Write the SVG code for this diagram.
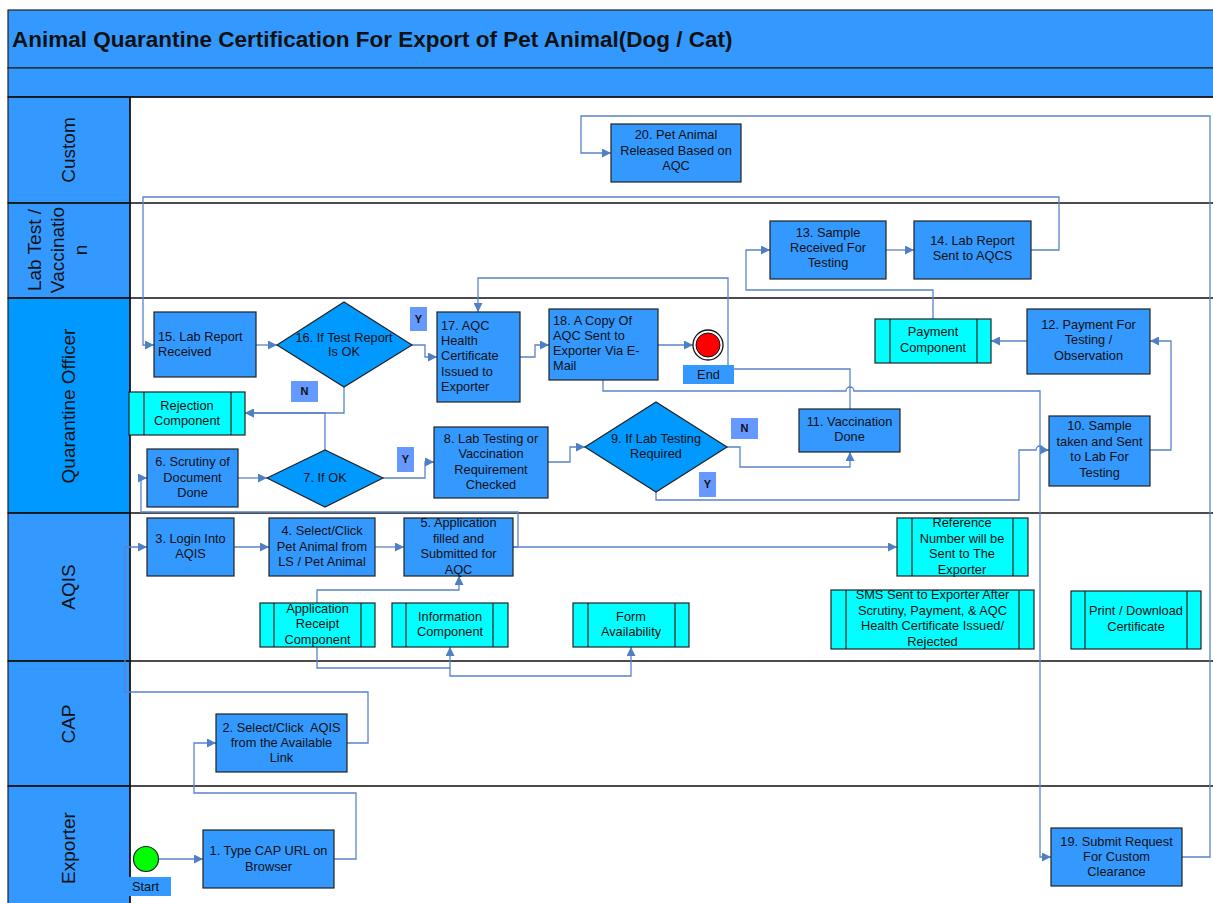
<svg xmlns="http://www.w3.org/2000/svg" width="1213" height="903" viewBox="0 0 1213 903">
<style>
.hdr{fill:#3399FF;stroke:#222;stroke-width:1.2}
.hdr2{fill:#0099FF;stroke:#222;stroke-width:1.2}
.lane{stroke:#111;stroke-width:1.5}
.box{fill:#3399FF;stroke:#222;stroke-width:1.2}
.comp{fill:#00FFFF;stroke:#222;stroke-width:1.2}
.cl{stroke:#222;stroke-width:1.2}
.dia{fill:#0099FF;stroke:#222;stroke-width:1.2}
.lbl{fill:#6699FF}
.lbl2{fill:#3399FF}
.t{font-family:"Liberation Sans",Arial,sans-serif;font-size:12.8px;fill:#111}
.c{text-anchor:middle}
.yn{font-family:"Liberation Sans",Arial,sans-serif;font-size:11px;font-weight:bold;fill:#111;text-anchor:middle}
.lh{font-family:"Liberation Sans",Arial,sans-serif;font-size:19px;fill:#111;text-anchor:middle}
.conn{fill:none;stroke:#5A84C8;stroke-width:1.3;marker-end:url(#ah)}
.line{fill:none;stroke:#5A84C8;stroke-width:1.3}
</style>
<defs>
<marker id="ah" markerUnits="userSpaceOnUse" markerWidth="9" markerHeight="9" refX="9" refY="4.5" orient="auto">
<path d="M0,0 L9,4.5 L0,9 z" fill="#4F7FC4"/>
</marker>
</defs>
<rect x="0" y="0" width="1213" height="903" fill="#fff"/>
<g id="frame">
<rect x="8" y="10" width="1210" height="58" class="hdr"/>
<rect x="8" y="68" width="1210" height="29" class="hdr"/>
<text x="12" y="47" font-family="Liberation Sans, Arial, sans-serif" font-size="22.5" font-weight="bold" fill="#111">Animal Quarantine Certification For Export of Pet Animal(Dog / Cat)</text>
<rect x="8" y="97" width="122" height="106" class="hdr"/>
<rect x="8" y="203" width="122" height="95" class="hdr"/>
<rect x="8" y="298" width="122" height="215" class="hdr2"/>
<rect x="8" y="513" width="122" height="148" class="hdr"/>
<rect x="8" y="661" width="122" height="125" class="hdr"/>
<rect x="8" y="786" width="122" height="120" class="hdr"/>
<line x1="8" y1="97" x2="1213" y2="97" class="lane"/>
<line x1="8" y1="203" x2="1213" y2="203" class="lane"/>
<line x1="8" y1="298" x2="1213" y2="298" class="lane"/>
<line x1="8" y1="513" x2="1213" y2="513" class="lane"/>
<line x1="8" y1="661" x2="1213" y2="661" class="lane"/>
<line x1="8" y1="786" x2="1213" y2="786" class="lane"/>
<line x1="130" y1="97" x2="130" y2="903" class="lane"/>
<text class="lh" transform="translate(75,150) rotate(-90)">Custom</text>
<text class="lh" transform="translate(41,250) rotate(-90)">Lab Test /</text>
<text class="lh" transform="translate(64,250) rotate(-90)">Vaccinatio</text>
<text class="lh" transform="translate(87,250) rotate(-90)">n</text>
<text class="lh" transform="translate(75,406) rotate(-90)">Quarantine Officer</text>
<text class="lh" transform="translate(75,587) rotate(-90)">AQIS</text>
<text class="lh" transform="translate(75,724) rotate(-90)">CAP</text>
<text class="lh" transform="translate(75,848) rotate(-90)">Exporter</text>
</g>
<g id="connectors">
<path class="conn" d="M158,859 H203"/>
<path class="conn" d="M334,859 H356 V793 H194 V743 H216"/>
<path class="conn" d="M347,743 H368 V692 H125 V547 H147"/>
<path class="conn" d="M234,547 H269"/>
<path class="conn" d="M375,547 H404"/>
<path class="conn" d="M513,547 H897"/>
<path class="conn" d="M513,547 H518 V512 H141 V478 H147"/>
<path class="conn" d="M317,603 V590 H459 V576"/>
<path class="conn" d="M317,647 V668 H450 V647"/>
<path class="conn" d="M450,668 V676 H631 V647"/>
<path class="conn" d="M238,478 H267"/>
<path class="conn" d="M383,478 H425 V462 H434"/>
<path class="conn" d="M325,450 V413 H245"/>
<path class="conn" d="M344,387 V413 H245"/>
<path class="conn" d="M548,462 H570 V447 H585"/>
<path class="conn" d="M727,447 H740 V467 H850 V452"/>
<path class="conn" d="M656,492 V500 H1019 V450 H1036 A4,4 0 0 1 1044,450 H1049"/>
<path class="conn" d="M1150,450 H1171 V341 H1150"/>
<path class="conn" d="M1027,341 H991"/>
<path class="conn" d="M933,319 V290 H746 V250 H770"/>
<path class="conn" d="M886,250 H914"/>
<path class="conn" d="M1031,250 H1059 V197 H143 V345 H154"/>
<path class="conn" d="M256,345 H277"/>
<path class="conn" d="M412,345 H425 V357 H437"/>
<path class="conn" d="M520,357 H535 V345 H549"/>
<path class="conn" d="M658,345 H693"/>
<path class="conn" d="M850,409 V369 H728 V278 H478 V312"/>
<path class="conn" d="M603,380 V391 H846 A4,4 0 0 1 854,391 H1040 V857 H1051"/>
<path class="conn" d="M1182,857 H1210 V116 H581 V153 H611"/>
</g>
<g id="n20"><rect x="611" y="124" width="130" height="58" class="box"/><text class="t c" x="676"><tspan x="676" y="139">20. Pet Animal</tspan><tspan x="676" y="155">Released Based on</tspan><tspan x="676" y="170">AQC</tspan></text></g>
<g id="n13"><rect x="770" y="221" width="116" height="58" class="box"/><text class="t c"><tspan x="828" y="237">13. Sample</tspan><tspan x="828" y="252">Received For</tspan><tspan x="828" y="267">Testing</tspan></text></g>
<g id="n14"><rect x="914" y="221" width="117" height="58" class="box"/><text class="t c"><tspan x="972.5" y="245">14. Lab Report</tspan><tspan x="972.5" y="260">Sent to AQCS</tspan></text></g>
<g id="payment"><rect x="875" y="319" width="116" height="44" class="comp"/><line x1="890" y1="319" x2="890" y2="363" class="cl"/><line x1="977" y1="319" x2="977" y2="363" class="cl"/><text class="t c"><tspan x="933" y="336">Payment</tspan><tspan x="933" y="352">Component</tspan></text></g>
<g id="n12"><rect x="1027" y="309" width="123" height="65" class="box"/><text class="t c"><tspan x="1088.5" y="329">12. Payment For</tspan><tspan x="1088.5" y="344">Testing /</tspan><tspan x="1088.5" y="360">Observation</tspan></text></g>
<g id="n15"><rect x="154" y="312" width="102" height="65" class="box"/><text class="t"><tspan x="158" y="341">15. Lab Report</tspan><tspan x="158" y="356">Received</tspan></text></g>
<g id="n16"><polygon points="277,345 344,302 412,345 344,387" class="dia"/><text class="t c"><tspan x="344" y="342">16. If Test Report</tspan><tspan x="344" y="356">Is OK</tspan></text></g>
<g id="n17"><rect x="437" y="312" width="83" height="90" class="box"/><text class="t"><tspan x="441" y="330">17. AQC</tspan><tspan x="441" y="345">Health</tspan><tspan x="441" y="360">Certificate</tspan><tspan x="441" y="376">Issued to</tspan><tspan x="441" y="391">Exporter</tspan></text></g>
<g id="n18"><rect x="549" y="309" width="109" height="71" class="box"/><text class="t"><tspan x="553" y="325">18. A Copy Of</tspan><tspan x="553" y="340">AQC Sent to</tspan><tspan x="553" y="355">Exporter Via E-</tspan><tspan x="553" y="370">Mail</tspan></text></g>
<g id="end"><circle cx="708" cy="345" r="15" fill="#fff" stroke="#111" stroke-width="1.3"/><circle cx="708" cy="345" r="12" fill="#FF0000" stroke="#111" stroke-width="1"/><rect x="683" y="365" width="51" height="19" class="lbl2"/><text class="t c" x="708.5" y="379">End</text></g>
<g id="rejection"><rect x="129" y="392" width="116" height="43" class="comp"/><line x1="144" y1="392" x2="144" y2="435" class="cl"/><line x1="231" y1="392" x2="231" y2="435" class="cl"/><text class="t c"><tspan x="187" y="410">Rejection</tspan><tspan x="187" y="425">Component</tspan></text></g>
<g id="n6"><rect x="147" y="449" width="91" height="58" class="box"/><text class="t c"><tspan x="192.5" y="466">6. Scrutiny of</tspan><tspan x="192.5" y="481.5">Document</tspan><tspan x="192.5" y="497">Done</tspan></text></g>
<g id="n7"><polygon points="267,478 325,450 383,478 325,507" class="dia"/><text class="t c" x="325" y="482">7. If OK</text></g>
<g id="n8"><rect x="434" y="427" width="114" height="71" class="box"/><text class="t c"><tspan x="491" y="443">8. Lab Testing or</tspan><tspan x="491" y="458">Vaccination</tspan><tspan x="491" y="474">Requirement</tspan><tspan x="491" y="489">Checked</tspan></text></g>
<g id="n9"><polygon points="585,447 656,402 727,447 656,492" class="dia"/><text class="t c"><tspan x="656" y="443">9. If Lab Testing</tspan><tspan x="656" y="458">Required</tspan></text></g>
<g id="n11"><rect x="799" y="409" width="101" height="43" class="box"/><text class="t c"><tspan x="849.5" y="426">11. Vaccination</tspan><tspan x="849.5" y="441">Done</tspan></text></g>
<g id="n10"><rect x="1049" y="416" width="101" height="70" class="box"/><text class="t c"><tspan x="1099.5" y="430">10. Sample</tspan><tspan x="1099.5" y="446">taken and Sent</tspan><tspan x="1099.5" y="461">to Lab For</tspan><tspan x="1099.5" y="477">Testing</tspan></text></g>
<g id="labels">
<rect x="410" y="307" width="17" height="24" class="lbl"/><text class="yn" x="418.5" y="323">Y</text>
<rect x="397" y="447" width="17" height="25" class="lbl"/><text class="yn" x="405.5" y="463">Y</text>
<rect x="699" y="472" width="17" height="25" class="lbl"/><text class="yn" x="707.5" y="488">Y</text>
<rect x="291" y="381" width="27" height="21" class="lbl"/><text class="yn" x="304.5" y="395">N</text>
<rect x="731" y="418" width="27" height="21" class="lbl"/><text class="yn" x="744.5" y="432">N</text>
</g>
<g id="n3"><rect x="147" y="518" width="87" height="58" class="box"/><text class="t c"><tspan x="190.5" y="543">3. Login Into</tspan><tspan x="190.5" y="558">AQIS</tspan></text></g>
<g id="n4"><rect x="269" y="518" width="106" height="58" class="box"/><text class="t c"><tspan x="322" y="535">4. Select/Click</tspan><tspan x="322" y="551">Pet Animal from</tspan><tspan x="322" y="566">LS / Pet Animal</tspan></text></g>
<g id="n5"><rect x="404" y="518" width="109" height="58" class="box"/><text class="t c"><tspan x="458.5" y="527">5. Application</tspan><tspan x="458.5" y="543">filled and</tspan><tspan x="458.5" y="558">Submitted for</tspan><tspan x="458.5" y="574">AQC</tspan></text></g>
<g id="appreceipt"><rect x="260" y="603" width="115" height="44" class="comp"/><line x1="274" y1="603" x2="274" y2="647" class="cl"/><line x1="361" y1="603" x2="361" y2="647" class="cl"/><text class="t c"><tspan x="317.5" y="613">Application</tspan><tspan x="317.5" y="628">Receipt</tspan><tspan x="317.5" y="644">Component</tspan></text></g>
<g id="info"><rect x="392" y="603" width="116" height="44" class="comp"/><line x1="406" y1="603" x2="406" y2="647" class="cl"/><line x1="493" y1="603" x2="493" y2="647" class="cl"/><text class="t c"><tspan x="450" y="621">Information</tspan><tspan x="450" y="636">Component</tspan></text></g>
<g id="form"><rect x="573" y="603" width="116" height="44" class="comp"/><line x1="588" y1="603" x2="588" y2="647" class="cl"/><line x1="675" y1="603" x2="675" y2="647" class="cl"/><text class="t c"><tspan x="631" y="621">Form</tspan><tspan x="631" y="636">Availability</tspan></text></g>
<g id="reference"><rect x="897" y="518" width="131" height="58" class="comp"/><line x1="912" y1="518" x2="912" y2="576" class="cl"/><line x1="1013" y1="518" x2="1013" y2="576" class="cl"/><text class="t c"><tspan x="962" y="527">Reference</tspan><tspan x="962" y="543">Number will be</tspan><tspan x="962" y="558">Sent to The</tspan><tspan x="962" y="574">Exporter</tspan></text></g>
<g id="sms"><rect x="831" y="590" width="203" height="59" class="comp"/><line x1="846" y1="590" x2="846" y2="649" class="cl"/><line x1="1019" y1="590" x2="1019" y2="649" class="cl"/><text class="t c"><tspan x="932.5" y="599">SMS Sent to Exporter After</tspan><tspan x="932.5" y="615">Scrutiny, Payment, &amp; AQC</tspan><tspan x="932.5" y="630">Health Certificate Issued/</tspan><tspan x="932.5" y="646">Rejected</tspan></text></g>
<g id="print"><rect x="1071" y="591" width="130" height="58" class="comp"/><line x1="1085" y1="591" x2="1085" y2="649" class="cl"/><line x1="1187" y1="591" x2="1187" y2="649" class="cl"/><text class="t c"><tspan x="1136" y="615">Print / Download</tspan><tspan x="1136" y="631">Certificate</tspan></text></g>
<g id="n2"><rect x="216" y="714" width="131" height="58" class="box"/><text class="t c" xml:space="preserve"><tspan x="281.5" y="732">2. Select/Click  AQIS</tspan><tspan x="281.5" y="747">from the Available</tspan><tspan x="281.5" y="762">Link</tspan></text></g>
<g id="n1"><rect x="203" y="830" width="131" height="58" class="box"/><text class="t c"><tspan x="268.5" y="855">1. Type CAP URL on</tspan><tspan x="268.5" y="871">Browser</tspan></text></g>
<g id="start"><circle cx="146" cy="859" r="12.5" fill="#00FF00" stroke="#222" stroke-width="1.2"/><rect x="120" y="877" width="51" height="19" class="lbl2"/><text class="t c" x="145.5" y="891">Start</text></g>
<g id="n19"><rect x="1051" y="828" width="131" height="58" class="box"/><text class="t c"><tspan x="1116.5" y="846">19. Submit Request</tspan><tspan x="1116.5" y="861">For Custom</tspan><tspan x="1116.5" y="876">Clearance</tspan></text></g>
</svg>
